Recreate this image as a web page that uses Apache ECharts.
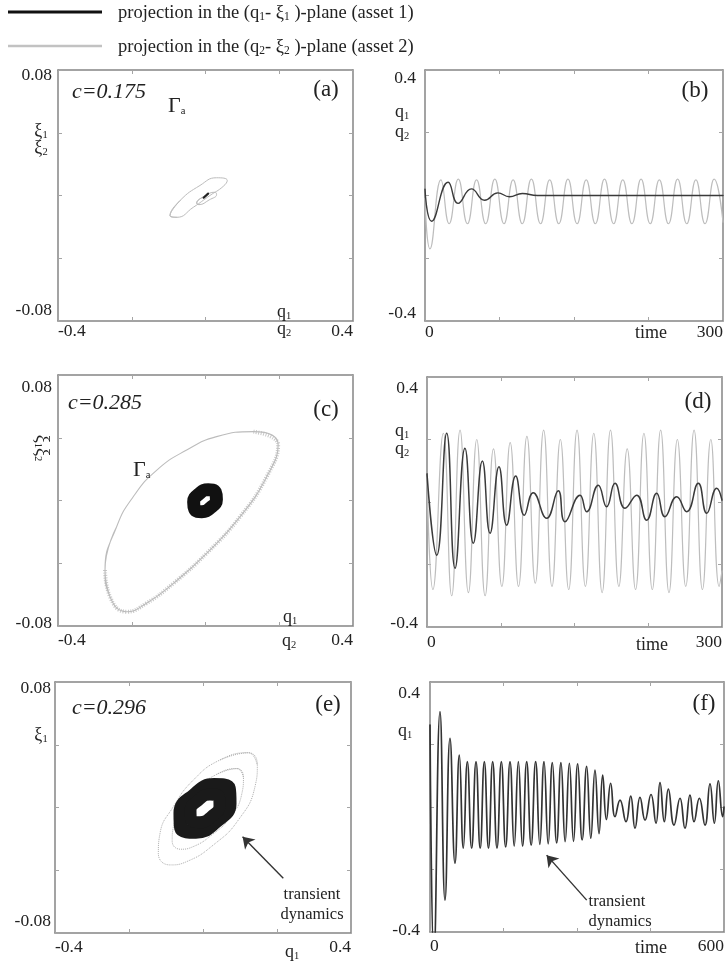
<!DOCTYPE html>
<html><head><meta charset="utf-8">
<script src="https://cdn.jsdelivr.net/npm/echarts@6/dist/echarts.min.js"></script>
<style>html,body{margin:0;padding:0;background:#fff}#c{width:728px;height:962px}</style>
</head><body><div id="c"></div>
<script>
// ---------------- data ----------------
const phaseXLabels = ['-0.4', '0.4'];
const phaseYLabels = ['-0.08', '0.08'];
const timeYLabels = ['-0.4', '0.4'];
const timeXLabels300 = ['0', '300'];
const timeXLabels600 = ['0', '600'];

// (a) c=0.175 : phase plane
const aGrayOuter = [[-0.0963,-0.0128],[-0.069,-0.0032],[-0.015,0.0064],[0.030,0.0113],[0.059,0.0096],[0.048,0.0058],[0.012,0],[-0.033,-0.0075],[-0.078,-0.0139]];
const aGrayInner = [[-0.024,-0.0049],[-0.004,-0.0006],[0.026,0.0021],[0.030,0.0006],[0.010,-0.0028],[-0.018,-0.0058]];
const aBlack = [[-0.005,-0.0014],[0.007,0.0012]];

// (b) time series, c=0.175
const bQ1 = [[0,0.02],[6.7,-0.082],[23.3,0.042],[33.3,-0.025],[46.7,0.021],[60,-0.015],[73.3,0.0085],[85,-0.004],[98,0.0064],[113,0],[300,0]];
const bQ2 = [[0,-0.01],[5,-0.17],[16,0.05],[24.3,-0.09],[33.5,0.052],[42.7,-0.09],[51.9,0.05],[61.1,-0.09],[70.3,0.052],[79.5,-0.09],[88.7,0.05],[97.9,-0.09],[107.1,0.052],[116.3,-0.09],[125.5,0.05],[134.7,-0.09],[143.9,0.052],[153.1,-0.09],[162.3,0.05],[171.5,-0.09],[180.7,0.052],[189.9,-0.09],[199.1,0.05],[208.3,-0.09],[217.5,0.052],[226.7,-0.09],[235.9,0.05],[245.1,-0.09],[254.3,0.052],[263.5,-0.09],[272.7,0.05],[281.9,-0.09],[291.1,0.052],[300,-0.085]];

// (c) c=0.285 : phase plane
const cGray = [[-0.2725,-0.0443],[-0.241,-0.0167],[-0.196,0.0024],[-0.132,0.0194],[-0.051,0.0322],[0.030,0.0407],[0.130,0.0439],[0.197,0.0354],[0.166,0.0152],[0.094,-0.0103],[0.003,-0.0337],[-0.087,-0.0528],[-0.160,-0.0655],[-0.214,-0.0709],[-0.259,-0.0613]];
const cGrayBand = [[0.130,0.0439],[0.197,0.0354],[0.166,0.0152],[0.094,-0.0103],[0.003,-0.0337],[-0.087,-0.0528],[-0.160,-0.0655],[-0.214,-0.0709],[-0.259,-0.0613],[-0.2725,-0.0443]];
const cBlackRing = [[0.0267,0.0054],[0.0296,0.0007],[0.0144,-0.0045],[-0.0099,-0.0071],[-0.0292,-0.0056],[-0.0321,-0.0009],[-0.0170,0.0043],[0.0073,0.0069]];

// (d) time series, c=0.285
const dQ1 = [[0,0.09],[9.9,-0.17],[20,0.22],[28.5,-0.212],[38.6,0.172],[47.1,-0.132],[56.3,0.131],[64.1,-0.10],[73.2,0.113],[81,-0.074],[90.2,0.083],[99,-0.042],[108,0.030],[121.7,-0.052],[133.5,0.036],[140.3,-0.063],[155.6,0.022],[162.4,-0.031],[174.2,0.054],[182.7,-0.015],[191.2,0.060],[201.4,-0.020],[213.2,0.022],[223.4,-0.058],[233.6,0.028],[242,-0.047],[253.9,0.017],[264.1,-0.031],[275.9,0.060],[284.5,-0.036],[294.6,0.044],[300,0.006]];
const dQ2 = [[0,0.08],[6,-0.28],[16.6,0.22],[25.1,-0.30],[33.6,0.23],[42.1,-0.29],[50.6,0.2],[59.1,-0.30],[67.6,0.17],[76.1,-0.27],[84.6,0.19],[93.1,-0.27],[101.6,0.21],[110.1,-0.26],[118.6,0.23],[127.1,-0.27],[135.6,0.2],[144.1,-0.28],[152.6,0.23],[161.1,-0.27],[169.6,0.22],[178.1,-0.29],[186.6,0.23],[195.1,-0.27],[203.6,0.17],[212.1,-0.28],[220.6,0.22],[229.1,-0.28],[237.6,0.23],[246.1,-0.29],[254.6,0.2],[263.1,-0.27],[271.6,0.23],[280.1,-0.28],[288.6,0.2],[297.1,-0.27],[300,-0.22]];

// (e) c=0.296 : phase plane
const eGrayOuter = [[0.1225,0.0349],[0.1468,0.0271],[0.1405,0.0133],[0.0955,-0.0080],[0.0279,-0.0239],[-0.0441,-0.0345],[-0.0892,-0.0366],[-0.1207,-0.0292],[-0.1162,-0.0165],[-0.0802,0.0005],[-0.0261,0.0175],[0.0459,0.0303]];
const eGrayInner = [[0.0918,0.0248],[0.1093,0.0192],[0.1048,0.0086],[0.0724,-0.0065],[0.0237,-0.0175],[-0.0281,-0.0251],[-0.0606,-0.0266],[-0.0833,-0.0213],[-0.0800,-0.0122],[-0.0541,0.0001],[-0.0152,0.0117],[0.0367,0.0211]];
const eBlackInner = [[0.0427,0.0069],[0.0446,0.0011],[0.0236,-0.0056],[-0.0081,-0.0094],[-0.0319,-0.0079],[-0.0338,-0.0021],[-0.0128,0.0046],[0.0189,0.0083]];
const eBlackOuter = [[0.0696,0.0122],[0.0717,0.0026],[0.0349,-0.0088],[-0.0191,-0.0154],[-0.0588,-0.0132],[-0.0609,-0.0036],[-0.0241,0.0078],[0.0299,0.0143]];
const eArrow = [[0.217,-0.0451],[0.107,-0.0186]];

// (f) time series, c=0.296
const fQ1 = [[0,0.262],[8,-0.48],[20.4,0.305],[30.6,-0.298],[40.8,0.22],[51,-0.18],[59.9,0.166],[68,-0.132],[76.2,0.145],[85,-0.132],[93.9,0.145],[102.4,-0.132],[110.9,0.145],[119.4,-0.132],[127.9,0.145],[136.7,-0.132],[145.6,0.145],[154.4,-0.128],[163.3,0.145],[171.8,-0.125],[180.3,0.145],[188.8,-0.125],[197.3,0.145],[206.4,-0.122],[215.6,0.145],[224.1,-0.12],[232.7,0.145],[241.2,-0.118],[249.7,0.142],[258.5,-0.115],[267.3,0.142],[275.8,-0.111],[284.4,0.14],[292.9,-0.11],[301.4,0.138],[310.5,-0.105],[319.7,0.13],[328.2,-0.1],[336.7,0.118],[345,-0.085],[352.4,0.102],[360,-0.04],[368.7,0.076],[377.6,-0.031],[387.8,0.022],[400,-0.047],[409.6,0.035],[418.4,-0.068],[428.6,0.031],[438.8,-0.042],[451,0.04],[461.2,-0.052],[469.4,0.078],[478.2,-0.047],[486.4,0.057],[498,-0.058],[510.2,0.028],[520.4,-0.068],[530.6,0.038],[538.8,-0.047],[549.7,0.028],[561.2,-0.058],[571.4,0.074],[580.3,-0.052],[588.4,0.084],[597.3,-0.031],[600,0.0]];
const fArrow = [[319.8,-0.298],[238,-0.154]];

// ---------------- layout / styles ----------------
const serif = '"Liberation Serif","Times New Roman",serif';
const PH_X = [-0.4, 0.4, 0.2], PH_Y = [-0.08, 0.08, 0.04], TY = [-0.4, 0.4, 0.2];
const panels = [
  {l:58,  t:70,  w:295, h:251, xr:PH_X, yr:PH_Y, xl:phaseXLabels, yl:phaseYLabels, xm:1, ym:6,  yp:[10,22]},
  {l:425, t:70,  w:298, h:251, xr:[0,300,75], yr:TY, xl:timeXLabels300, yl:timeYLabels, xm:2, ym:9, yp:[16,16]},
  {l:58,  t:375, w:295, h:251, xr:PH_X, yr:PH_Y, xl:phaseXLabels, yl:phaseYLabels, xm:5, ym:6,  yp:[24,6]},
  {l:427, t:377, w:295, h:250, xr:[0,300,75], yr:TY, xl:timeXLabels300, yl:timeYLabels, xm:6, ym:9, yp:[22,8]},
  {l:55,  t:682, w:296, h:251, xr:PH_X, yr:PH_Y, xl:phaseXLabels, yl:phaseYLabels, xm:5, ym:4,  yp:[12,24]},
  {l:430, t:682, w:294, h:250, xr:[0,600,150], yr:TY, xl:timeXLabels600, yl:timeYLabels, xm:5, ym:10, yp:[22,4]}
];
function near(a,b){ return Math.abs(a-b) < 1e-6; }
const grids = [], xAxes = [], yAxes = [];
panels.forEach((p, i) => {
  grids.push({left:p.l, top:p.t, width:p.w, height:p.h, containLabel:false, outerBoundsMode:'none'});
  const [x0,x1,xi] = p.xr, [y0,y1,yi] = p.yr;
  const axisLine = {show:true, onZero:false, lineStyle:{color:'#858585', width:1.5}};
  const tick = {show:true, inside:true, length:4, lineStyle:{color:'#a5a5a5', width:1}};
  const lab = {color:'#222', fontFamily:serif, fontSize:17.5};
  xAxes.push({type:'value', gridIndex:i, position:'bottom', min:x0, max:x1, interval:xi, axisLine, axisTick:tick, splitLine:{show:false},
    axisLabel:Object.assign({show:true, margin:p.xm, alignMinLabel:'left', alignMaxLabel:'right', showMinLabel:true, showMaxLabel:true,
      formatter:v => near(v,x0) ? p.xl[0] : (near(v,x1) ? p.xl[1] : '')}, lab)});
  xAxes.push({type:'value', gridIndex:i, position:'top', min:x0, max:x1, interval:xi, axisLine, axisTick:tick, splitLine:{show:false}, axisLabel:{show:false}});
  yAxes.push({type:'value', gridIndex:i, position:'left', min:y0, max:y1, interval:yi, axisLine, axisTick:tick, splitLine:{show:false},
    axisLabel:Object.assign({show:true, margin:p.ym, showMinLabel:true, showMaxLabel:true,
      formatter:v => near(v,y0) ? '{mn|'+p.yl[0]+'}' : (near(v,y1) ? '{mx|'+p.yl[1]+'}' : ''),
      rich:{mn:{padding:[0,0,p.yp[1],0]}, mx:{padding:[p.yp[0],0,0,0]}}}, lab)});
  yAxes.push({type:'value', gridIndex:i, position:'right', min:y0, max:y1, interval:yi, axisLine, axisTick:tick, splitLine:{show:false}, axisLabel:{show:false}});
});

const GRAY = '#bcbcbc', BLACK = '#111', DARK = '#3a3a3a';
function line(gi, data, color, width, extra){
  return Object.assign({type:'line', xAxisIndex:2*gi, yAxisIndex:2*gi, data:data, showSymbol:false, symbol:'none',
    smooth:0.5, silent:true, animation:false, emphasis:{disabled:true},
    lineStyle:{color:color, width:width, cap:'round', join:'round'}}, extra || {});
}
function loop(pts){ return [pts[pts.length-1]].concat(pts, [pts[0], pts[1]]); }
function arrowMark(pts){
  return {silent:true, animation:false, symbol:['none','arrow'], symbolSize:11,
    lineStyle:{color:'#333', width:1.4, type:'solid'}, label:{show:false}, emphasis:{disabled:true},
    data:[[{coord:pts[0]},{coord:pts[1]}]]};
}

const series = [
  line(0, loop(aGrayOuter), GRAY, 1),
  line(0, loop(aGrayInner), GRAY, 1),
  line(0, aBlack, '#222', 2.2, {smooth:false}),
  line(1, bQ2, '#bdbdbd', 1.2),
  line(1, bQ1, DARK, 1.4),
  line(2, cGrayBand, '#c8c8c8', 4, {lineStyle:{color:'#c8c8c8', width:4, type:[1,1.5]}}),
  line(2, loop(cGray), GRAY, 1.1),
  line(2, loop(cBlackRing), BLACK, 13),
  line(3, dQ2, '#bdbdbd', 1.2),
  line(3, dQ1, DARK, 1.5),
  line(4, loop(eGrayOuter), '#adadad', 1, {lineStyle:{color:'#adadad', width:1, type:'dotted'}}),
  line(4, loop(eGrayInner), '#adadad', 1, {lineStyle:{color:'#adadad', width:1, type:'dotted'}}),
  line(4, loop(eBlackOuter), '#1a1a1a', 14),
  line(4, loop(eBlackInner), '#1a1a1a', 12, {markLine:arrowMark(eArrow)}),
  line(5, fQ1, '#333', 1.7, {markLine:arrowMark(fArrow)})
];

// ---------------- texts ----------------
const RICH = {
  n:{fontFamily:serif, fontSize:18, lineHeight:20, verticalAlign:'middle', fill:'#222'},
  s:{fontFamily:serif, fontSize:10.5, lineHeight:10, verticalAlign:'bottom', fill:'#222'},
  g:{fontFamily:serif, fontSize:22, lineHeight:22, verticalAlign:'middle', fill:'#222'},
  l:{fontFamily:serif, fontSize:18.5, lineHeight:20, verticalAlign:'middle', fill:'#222'},
  ls:{fontFamily:serif, fontSize:11.5, lineHeight:11, verticalAlign:'bottom', fill:'#222'}
};
function T(x, y, text, o){
  o = o || {};
  return {type:'text', x:x, y:y, rotation:o.rot || 0, silent:true, z:10,
    style:{text:text, rich:RICH, font:o.font || ('18px ' + serif), fill:'#222', align:o.align || 'center', verticalAlign:'middle'}};
}
const q1 = '{n|q}{s|1}', q2 = '{n|q}{s|2}', x1 = '{n|ξ}{s|1}', x2 = '{n|ξ}{s|2}', gam = '{g|Γ}{s|a}';
const itcFont = 'italic 22px ' + serif, letFont = '23px ' + serif, smallFont = '16.5px ' + serif;
const graphic = [
  {type:'line', silent:true, shape:{x1:8, y1:12, x2:102, y2:12}, style:{stroke:'#111', lineWidth:3}},
  T(118, 13, '{l|projection in the (q}{ls|1}{l|- ξ}{ls|1}{l| )-plane (asset 1)}', {align:'left'}),
  {type:'line', silent:true, shape:{x1:8, y1:46, x2:102, y2:46}, style:{stroke:'#c2c2c2', lineWidth:2.5}},
  T(118, 47, '{l|projection in the (q}{ls|2}{l|- ξ}{ls|2}{l| )-plane (asset 2)}', {align:'left'}),
  // (a)
  T(72, 92, 'c=0.175', {font:itcFont, align:'left'}), T(326, 90, '(a)', {font:letFont}),
  T(41, 131, x1), T(41, 148, x2), T(168, 106, gam, {align:'left'}),
  T(284, 312, q1), T(284, 329, q2),
  // (b)
  T(695, 91, '(b)', {font:letFont}), T(402, 112, q1), T(402, 132, q2), T(651, 333, 'time'),
  // (c)
  T(68, 403, 'c=0.285', {font:itcFont, align:'left'}), T(326, 410, '(c)', {font:letFont}),
  T(42, 448, x1 + x2, {rot:-Math.PI/2}), T(133, 470, gam, {align:'left'}),
  T(290, 617, q1), T(289, 641, q2),
  // (d)
  T(698, 402, '(d)', {font:letFont}), T(402, 431, q1), T(402, 449, q2), T(652, 645, 'time'),
  // (e)
  T(72, 708, 'c=0.296', {font:itcFont, align:'left'}), T(328, 705, '(e)', {font:letFont}),
  T(41, 735, x1), T(292, 952, q1),
  T(312, 895, 'transient', {font:smallFont}), T(312, 915, 'dynamics', {font:smallFont}),
  // (f)
  T(704, 704, '(f)', {font:letFont}), T(405, 731, q1), T(651, 948, 'time'),
  T(617, 902, 'transient', {font:smallFont}), T(620, 922, 'dynamics', {font:smallFont})
];

const chart = echarts.init(document.getElementById('c'), null, {renderer:'canvas'});
chart.setOption({
  animation:false, backgroundColor:'#fff',
  grid:grids, xAxis:xAxes, yAxis:yAxes, series:series, graphic:graphic
});
</script></body></html>
